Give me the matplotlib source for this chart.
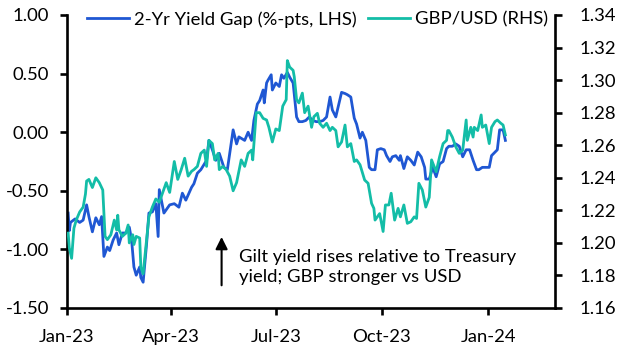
import matplotlib
matplotlib.use('Agg')
import numpy as np
import pandas as pd
import matplotlib.pyplot as plt
import matplotlib.dates as mdates
from matplotlib.ticker import FormatStrFormatter

plt.rcParams['font.family'] = ['Lato', 'DejaVu Sans']
plt.rcParams['axes.unicode_minus'] = False

# 2-yr gilt minus treasury yield gap (%-pts), left axis
gap_dates = ['2023-01-02', '2023-01-03', '2023-01-04', '2023-01-08', '2023-01-12', '2023-01-15',
             '2023-01-18', '2023-01-20', '2023-01-23', '2023-01-26', '2023-01-29', '2023-01-31',
             '2023-02-02', '2023-02-05', '2023-02-07', '2023-02-10', '2023-02-13', '2023-02-15',
             '2023-02-18', '2023-02-21', '2023-02-24', '2023-02-26', '2023-02-28', '2023-03-02',
             '2023-03-05', '2023-03-06', '2023-03-08', '2023-03-11', '2023-03-13', '2023-03-16',
             '2023-03-19', '2023-03-21', '2023-03-22', '2023-03-26', '2023-03-31', '2023-04-04',
             '2023-04-08', '2023-04-11', '2023-04-14', '2023-04-19', '2023-04-21', '2023-04-24',
             '2023-04-27', '2023-05-02', '2023-05-04', '2023-05-07', '2023-05-10', '2023-05-13',
             '2023-05-17', '2023-05-20', '2023-05-25', '2023-05-28', '2023-05-30', '2023-06-04',
             '2023-06-07', '2023-06-10', '2023-06-12', '2023-06-15', '2023-06-17', '2023-06-20',
             '2023-06-21', '2023-06-23', '2023-06-24', '2023-06-27', '2023-06-28', '2023-07-01',
             '2023-07-04', '2023-07-06', '2023-07-08', '2023-07-11', '2023-07-13', '2023-07-16',
             '2023-07-19', '2023-07-21', '2023-07-24', '2023-07-27', '2023-07-30', '2023-08-02',
             '2023-08-05', '2023-08-08', '2023-08-11', '2023-08-14', '2023-08-17', '2023-08-19',
             '2023-08-22', '2023-08-27', '2023-08-30', '2023-09-01', '2023-09-04', '2023-09-07',
             '2023-09-09', '2023-09-12', '2023-09-14', '2023-09-17', '2023-09-20', '2023-09-22',
             '2023-09-25', '2023-09-27', '2023-09-30', '2023-10-03', '2023-10-05', '2023-10-08',
             '2023-10-10', '2023-10-13', '2023-10-16', '2023-10-17', '2023-10-20', '2023-10-23',
             '2023-10-26', '2023-10-29', '2023-11-01', '2023-11-04', '2023-11-07', '2023-11-08',
             '2023-11-11', '2023-11-14', '2023-11-17', '2023-11-20', '2023-11-23', '2023-11-26',
             '2023-11-28', '2023-12-01', '2023-12-04', '2023-12-07', '2023-12-10', '2023-12-13',
             '2023-12-16', '2023-12-19', '2023-12-22', '2023-12-24', '2023-12-27', '2023-12-30',
             '2024-01-02', '2024-01-04', '2024-01-07', '2024-01-09', '2024-01-11', '2024-01-14',
             '2024-01-16']
gap_vals = [-0.69, -0.84, -0.77, -0.74, -0.77, -0.75,
            -0.62, -0.72, -0.85, -0.73, -0.79, -0.72,
            -1.06, -0.98, -1.01, -0.92, -0.86, -0.96,
            -0.86, -0.86, -0.81, -0.92, -1.15, -1.22,
            -1.15, -1.24, -1.28, -0.95, -0.69, -0.68,
            -0.61, -0.89, -0.49, -0.69, -0.62, -0.61,
            -0.64, -0.52, -0.58, -0.47, -0.44, -0.35,
            -0.32, -0.24, -0.07, -0.15, -0.24, -0.18,
            -0.30, -0.32, 0.02, -0.10, -0.04, -0.07,
            0.00, -0.07, 0.10, 0.24, 0.27, 0.36,
            0.25, 0.42, 0.44, 0.49, 0.36, 0.42,
            0.39, 0.49, 0.46, 0.51, 0.47, 0.42,
            0.13, 0.09, 0.09, 0.10, 0.13, 0.10,
            0.09, 0.09, 0.10, 0.13, 0.30, 0.19,
            0.13, 0.34, 0.33, 0.32, 0.30, 0.12,
            0.07, -0.05, 0.00, -0.07, -0.30, -0.32,
            -0.32, -0.15, -0.14, -0.15, -0.20, -0.25,
            -0.21, -0.20, -0.24, -0.20, -0.31, -0.21,
            -0.24, -0.28, -0.17, -0.21, -0.30, -0.40,
            -0.40, -0.30, -0.38, -0.27, -0.25, -0.14,
            -0.12, -0.12, -0.10, -0.12, -0.21, -0.15,
            -0.15, -0.24, -0.32, -0.32, -0.30, -0.30,
            -0.30, -0.20, -0.17, -0.15, 0.02, 0.02,
            -0.07]

# GBP/USD, right axis
fx_dates = ['2023-01-02', '2023-01-03', '2023-01-05', '2023-01-07', '2023-01-09', '2023-01-12',
            '2023-01-15', '2023-01-17', '2023-01-18', '2023-01-20', '2023-01-23', '2023-01-26',
            '2023-01-29', '2023-02-01', '2023-02-03', '2023-02-05', '2023-02-08', '2023-02-11',
            '2023-02-13', '2023-02-14', '2023-02-15', '2023-02-18', '2023-02-21', '2023-02-23',
            '2023-02-24', '2023-02-27', '2023-02-28', '2023-03-02', '2023-03-05', '2023-03-06',
            '2023-03-08', '2023-03-11', '2023-03-13', '2023-03-16', '2023-03-19', '2023-03-22',
            '2023-03-28', '2023-03-31', '2023-04-04', '2023-04-07', '2023-04-10', '2023-04-13',
            '2023-04-16', '2023-04-19', '2023-04-21', '2023-04-24', '2023-04-27', '2023-04-30',
            '2023-05-02', '2023-05-04', '2023-05-07', '2023-05-09', '2023-05-12', '2023-05-13',
            '2023-05-16', '2023-05-19', '2023-05-22', '2023-05-25', '2023-05-28', '2023-05-30',
            '2023-06-01', '2023-06-04', '2023-06-07', '2023-06-10', '2023-06-11', '2023-06-14',
            '2023-06-17', '2023-06-20', '2023-06-23', '2023-06-25', '2023-06-28', '2023-07-01',
            '2023-07-04', '2023-07-07', '2023-07-10', '2023-07-11', '2023-07-13', '2023-07-16',
            '2023-07-17', '2023-07-19', '2023-07-21', '2023-07-24', '2023-07-26', '2023-07-29',
            '2023-08-01', '2023-08-03', '2023-08-06', '2023-08-08', '2023-08-11', '2023-08-14',
            '2023-08-17', '2023-08-19', '2023-08-22', '2023-08-24', '2023-08-27', '2023-08-30',
            '2023-09-01', '2023-09-04', '2023-09-07', '2023-09-09', '2023-09-12', '2023-09-16',
            '2023-09-19', '2023-09-22', '2023-09-24', '2023-09-25', '2023-09-29', '2023-10-02',
            '2023-10-04', '2023-10-07', '2023-10-09', '2023-10-12', '2023-10-15', '2023-10-17',
            '2023-10-20', '2023-10-23', '2023-10-26', '2023-10-29', '2023-10-31', '2023-11-02',
            '2023-11-05', '2023-11-08', '2023-11-11', '2023-11-13', '2023-11-17', '2023-11-20',
            '2023-11-23', '2023-11-26', '2023-11-27', '2023-11-28', '2023-12-01', '2023-12-04',
            '2023-12-07', '2023-12-10', '2023-12-13', '2023-12-14', '2023-12-17', '2023-12-19',
            '2023-12-20', '2023-12-23', '2023-12-26', '2023-12-27', '2023-12-30', '2024-01-02',
            '2024-01-04', '2024-01-07', '2024-01-09', '2024-01-12', '2024-01-14', '2024-01-16']
fx_vals = [1.206, 1.197, 1.1905, 1.209, 1.214, 1.219,
           1.222, 1.230, 1.238, 1.239, 1.234, 1.240,
           1.237, 1.2325, 1.204, 1.202, 1.205, 1.214,
           1.208, 1.217, 1.208, 1.204, 1.206, 1.211,
           1.200, 1.205, 1.199, 1.204, 1.203, 1.185,
           1.181, 1.202, 1.216, 1.222, 1.227, 1.225,
           1.237, 1.231, 1.250, 1.239, 1.245, 1.252,
           1.241, 1.244, 1.245, 1.247, 1.255, 1.257,
           1.247, 1.263, 1.261, 1.251, 1.255, 1.245,
           1.247, 1.245, 1.241, 1.232, 1.237, 1.244,
           1.251, 1.247, 1.255, 1.257, 1.251, 1.280,
           1.280, 1.2765, 1.2755, 1.271, 1.262, 1.270,
           1.269, 1.284, 1.288, 1.312, 1.308, 1.306,
           1.302, 1.288, 1.286, 1.292, 1.280, 1.284,
           1.271, 1.2775, 1.2796, 1.2735, 1.271, 1.2735,
           1.269, 1.271, 1.269, 1.259, 1.262, 1.2724,
           1.259, 1.261, 1.250, 1.251, 1.248, 1.2386,
           1.2366, 1.2243, 1.2212, 1.214, 1.218, 1.207,
           1.2233, 1.2233, 1.2305, 1.214, 1.2212, 1.216,
           1.2233, 1.212, 1.213, 1.216, 1.215, 1.2366,
           1.2325, 1.222, 1.228, 1.251, 1.2437, 1.253,
           1.261, 1.263, 1.269, 1.269, 1.265, 1.259,
           1.255, 1.257, 1.2755, 1.263, 1.271, 1.265,
           1.271, 1.269, 1.2786, 1.271, 1.2724, 1.261,
           1.271, 1.2745, 1.2755, 1.2735, 1.2724, 1.2663]

xtick_dates = ['2023-01-01', '2023-04-01', '2023-07-01', '2023-10-01', '2024-01-01']

blue = '#1f57d3'
teal = '#13bda7'
fs = 13.3

fig = plt.figure(figsize=(6.28, 3.51), dpi=100)
ax = fig.add_axes([67/628, 1-308/351, 488/628, 293/351])
ax2 = ax.twinx()

l1, = ax.plot(pd.to_datetime(gap_dates), gap_vals, color=blue, lw=2.0,
              label='2-Yr Yield Gap (%-pts, LHS)')
l2, = ax2.plot(pd.to_datetime(fx_dates), fx_vals, color=teal, lw=2.0,
               label='GBP/USD (RHS)')

ax.set_xlim(pd.Timestamp('2023-01-01'), pd.Timestamp('2024-02-28'))
ax.set_ylim(-1.5, 1.0)
ax.set_yticks(np.arange(-1.5, 1.01, 0.5))
ax2.set_ylim(1.16, 1.34)
ax2.set_yticks(np.arange(1.16, 1.3401, 0.02))
ax.yaxis.set_major_formatter(FormatStrFormatter('%.2f'))
ax2.yaxis.set_major_formatter(FormatStrFormatter('%.2f'))
ax.set_xticks(pd.to_datetime(xtick_dates))
ax.xaxis.set_major_formatter(mdates.DateFormatter('%b-%y'))

for a in (ax, ax2):
    a.spines['top'].set_visible(False)
    for s in ('left', 'right', 'bottom'):
        a.spines[s].set_linewidth(1.9)
    a.tick_params(axis='both', direction='out', length=5, width=1.9,
                  labelsize=fs)
ax.spines['right'].set_visible(False)
ax2.spines['left'].set_visible(False)
ax2.spines['bottom'].set_visible(False)
ax.tick_params(axis='y', pad=8)
ax.tick_params(axis='x', pad=10)
ax2.tick_params(axis='y', pad=13)

ax.legend(handles=[l1, l2], loc='center left', bbox_to_anchor=(0.041, 0.985),
          ncol=2, frameon=False, fontsize=fs, handlelength=2.3,
          handletextpad=0.25, columnspacing=0.6, borderpad=0, borderaxespad=0)

ax.annotate('', xy=(pd.Timestamp('2023-05-15'), -0.87),
            xytext=(pd.Timestamp('2023-05-15'), -1.33),
            arrowprops=dict(arrowstyle='-|>', color='black', lw=1.5,
                            mutation_scale=18))
ax.text(pd.Timestamp('2023-05-30'), -1.15,
        'Gilt yield rises relative to Treasury\nyield; GBP stronger vs USD',
        fontsize=fs, va='center', ha='left', linespacing=1.25)

fig.savefig('out.png', dpi=100)
